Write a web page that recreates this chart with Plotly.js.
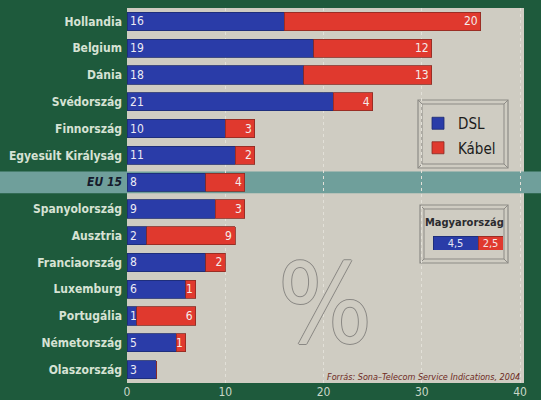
<!DOCTYPE html>
<html><head><meta charset="utf-8">
<script src="https://cdn.plot.ly/plotly-3.0.1.min.js"></script>
<style>html,body{margin:0;padding:0;background:#1e5a3c;}</style>
</head><body><div id="chart" style="width:541px;height:400px;"></div>
<script>
const countries = ['Hollandia','Belgium','Dánia','Svédország','Finnország','Egyesült Királyság','EU 15','Spanyolország','Ausztria','Franciaország','Luxemburg','Portugália','Németország','Olaszország'];
const dsl   = [16,19,18,21,10,11,8,9,2,8,6,1,5,3];
const kabel = [20,12,13,4,3,2,4,3,9,2,1,6,1,0];
const xTicks = [0,10,20,30,40];
const seriesNames = ['DSL','Kábel'];
const huLabel = 'Magyarország';
const huDsl = [4.5];
const huKabel = [2.5];
const huText = ['4,5','2,5'];
const sourceText = 'Forrás: Sona–Telecom Service Indications, 2004';

const GREEN = '#1e5a3c', BG = '#cfccc2', BLUE = '#2a3ca8', RED = '#e0392e';
const FONT = '"Liberation Sans Narrow","DejaVu Sans Condensed","Roboto",sans-serif';
const L = 127, T = 8, PW = 397, PH = 375;
const px = x => (x - L) / PW;
const py = y => 1 - (y - T) / PH;

const tickText = countries.map(c => c === 'EU 15'
  ? '<b><i><span style="color:#151a2c">' + c + '</span></i></b>'
  : '<b>' + c + '</b>');

const traces = [
  {type:'bar', orientation:'h', name:seriesNames[0], legendgroup:'a', y:countries, x:dsl,
   marker:{color:BLUE, line:{color:'#1c2a70', width:0.8}},
   text:dsl.map(String), textposition:'inside', insidetextanchor:'start', textangle:0,
   constraintext:'none', textfont:{color:'#ecebf4', size:12, family:FONT},
   width:0.68, hoverinfo:'x+y'},
  {type:'bar', orientation:'h', name:seriesNames[1], legendgroup:'b', y:countries, x:kabel,
   marker:{color:RED, line:{color:'#8a2a22', width:0.8}},
   text:kabel.map(v => v ? String(v) : ''), textposition:'inside', insidetextanchor:'end', textangle:0,
   constraintext:'none', textfont:{color:'#f4ecea', size:12, family:FONT},
   width:0.68, hoverinfo:'x+y'},
  {type:'bar', orientation:'h', name:'hu-dsl', showlegend:false, y:[huLabel], x:huDsl,
   xaxis:'x2', yaxis:'y2', marker:{color:BLUE, line:{color:'#1c2a70', width:0.8}},
   text:[huText[0]], textposition:'inside', insidetextanchor:'middle', textangle:0, constraintext:'none',
   textfont:{color:'#e6e6f2', size:11, family:FONT}, width:1},
  {type:'bar', orientation:'h', name:'hu-kabel', showlegend:false, y:[huLabel], x:huKabel,
   xaxis:'x2', yaxis:'y2', marker:{color:RED, line:{color:'#8a2a22', width:0.8}},
   text:[huText[1]], textposition:'inside', insidetextanchor:'middle', textangle:0, constraintext:'none',
   textfont:{color:'#f4e6e4', size:11, family:FONT}, width:1}
];

const FC = '#8d8b86';
const frame = (x0,y0,x1,y1) => [
  {type:'rect', xref:'paper', yref:'paper', x0:px(x0), x1:px(x1), y0:py(y0), y1:py(y1),
   line:{color:FC, width:1.2}, fillcolor:BG, layer:'below'},
  {type:'rect', xref:'paper', yref:'paper', x0:px(x0+4), x1:px(x1-4), y0:py(y0+4), y1:py(y1-4),
   line:{color:FC, width:1}, layer:'below'},
  {type:'line', xref:'paper', yref:'paper', x0:px(x0), y0:py(y0), x1:px(x0+4), y1:py(y0+4), line:{color:FC, width:1}, layer:'below'},
  {type:'line', xref:'paper', yref:'paper', x0:px(x1), y0:py(y0), x1:px(x1-4), y1:py(y0+4), line:{color:FC, width:1}, layer:'below'},
  {type:'line', xref:'paper', yref:'paper', x0:px(x0), y0:py(y1), x1:px(x0+4), y1:py(y1-4), line:{color:FC, width:1}, layer:'below'},
  {type:'line', xref:'paper', yref:'paper', x0:px(x1), y0:py(y1), x1:px(x1-4), y1:py(y1-4), line:{color:FC, width:1}, layer:'below'}
];

const layout = {
  width:541, height:400,
  margin:{l:L, r:541-L-PW, t:T, b:400-T-PH, pad:0},
  paper_bgcolor:GREEN, plot_bgcolor:BG,
  barmode:'stack', bargap:0.3,
  font:{family:FONT, color:'#d6e2d4'},
  xaxis:{range:[0,40.4], tickvals:xTicks, ticktext:xTicks.map(String), showgrid:true,
         gridcolor:'#e2e0d8', griddash:'dot', gridwidth:1, zeroline:false, showline:false,
         ticks:'', tickfont:{size:12, color:'#c9d8c8', family:FONT}, fixedrange:true},
  yaxis:{type:'category', range:[13.5,-0.5], tickvals:countries, ticktext:tickText,
         ticks:'', showgrid:false, zeroline:false, showline:false, ticklabelstandoff:4,
         tickfont:{size:12, color:'#d6e2d4', family:FONT}, fixedrange:true},
  xaxis2:{domain:[px(433), px(503)], range:[0,7], anchor:'y2', visible:false, fixedrange:true},
  yaxis2:{domain:[py(250), py(236)], anchor:'x2', visible:false, range:[-0.5,0.5], fixedrange:true},
  showlegend:true,
  legend:{x:px(418), y:py(107), xanchor:'left', yanchor:'top', bgcolor:'rgba(0,0,0,0)',
          borderwidth:0, font:{size:15, color:'#1c1c1c', family:FONT}, traceorder:'grouped',
          tracegroupgap:2, itemwidth:30},
  shapes:[
    {type:'rect', xref:'paper', yref:'y', x0:-L/PW, x1:(541-L)/PW, y0:5.6, y1:6.42,
     fillcolor:'#6f9f9b', line:{width:0}, layer:'below'},
    ...frame(418,100,508,168),
    ...frame(420,205,508,263)
  ],
  annotations:[
    {xref:'paper', yref:'paper', x:px(464), y:py(222), xanchor:'center', yanchor:'middle',
     text:'<b>'+huLabel+'</b>', showarrow:false,
     font:{size:11, color:'#2a2a2e', family:FONT}},
    {xref:'paper', yref:'paper', x:px(325), y:py(370), xanchor:'center', yanchor:'bottom',
     text:'%', showarrow:false,
     font:{size:110, color:BG, family:FONT,
           shadow:'1px 0 0 #8a8884, -1px 0 0 #8a8884, 0 1px 0 #8a8884, 0 -1px 0 #8a8884'}},
    {xref:'paper', yref:'paper', x:px(522), y:py(377), xanchor:'right', yanchor:'middle',
     text:'<i>'+sourceText+'</i>',
     showarrow:false, font:{size:9, color:'#6e2a22', family:FONT}}
  ]
};

Plotly.newPlot('chart', traces, layout, {displayModeBar:false, staticPlot:true});
</script></body></html>
